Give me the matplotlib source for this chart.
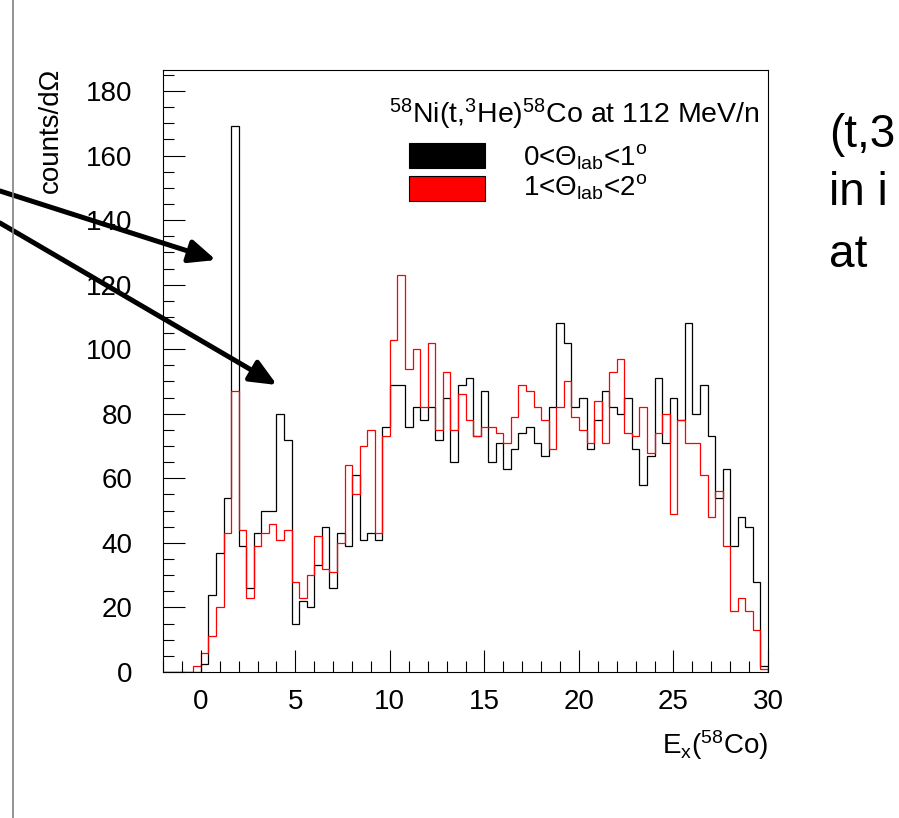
import numpy as np
import matplotlib
matplotlib.use('Agg')
import matplotlib.pyplot as plt
from matplotlib.patches import Rectangle
from matplotlib.lines import Line2D
from matplotlib.ticker import MultipleLocator

plt.rcParams['font.family'] = ['Liberation Sans', 'DejaVu Sans']
plt.rcParams['mathtext.fontset'] = 'custom'
plt.rcParams['mathtext.rm'] = 'Liberation Sans'
plt.rcParams['mathtext.it'] = 'Liberation Sans:italic'

# histogram binning: 80 bins of 0.4 MeV from -2 to 30
x_lo, x_hi, n_bins = -2.0, 30.0, 80

# 0 < theta_lab < 1 deg
counts_0to1 = [0, 0, 0, 0, 0, 2.5, 24, 37, 54, 169,
               39, 26, 43, 50, 50, 80, 72, 15, 22, 20,
               33, 45, 26, 43, 39, 61, 41, 43, 41, 76,
               89, 89, 76, 82, 78, 82, 72, 85, 65, 89,
               91, 73, 87, 65, 71, 63, 69, 74, 76, 71,
               67, 82, 108, 102, 82, 85, 69, 78, 87, 82,
               80, 85, 69, 58, 67, 91, 71, 85, 78, 108,
               80, 89, 73, 54, 63, 39, 48, 45, 28, 2]

# 1 < theta_lab < 2 deg
counts_1to2 = [0, 0, 0, 0, 2, 6, 11, 20, 43, 87,
               44, 23, 39, 43, 46, 41, 44, 28, 23, 30,
               42, 32, 31, 40, 64, 55, 70, 75, 43, 73,
               103, 123, 94, 100, 82, 102, 75, 93, 75, 86,
               78, 73, 76, 76, 74, 71, 79, 89, 87, 82,
               78, 69, 82, 90, 79, 75, 71, 84, 71, 93,
               97, 74, 73, 82, 68, 74, 80, 49, 78, 71,
               71, 61, 48, 56, 39, 19, 23, 19, 13, 1]

edges = np.linspace(x_lo, x_hi, n_bins + 1)

W, H = 899, 818
fs = 20
fig = plt.figure(figsize=(W / 100, H / 100), dpi=100)
ax = fig.add_axes([163 / W, 1 - 672 / H, 605 / W, 602 / H])

ax.stairs(counts_0to1, edges, color='black', lw=0.9)
ax.stairs(counts_1to2, edges, color='red', lw=0.9)

ax.set_xlim(x_lo, x_hi)
ax.set_ylim(0, 186.5)
ax.xaxis.set_major_locator(MultipleLocator(5))
ax.xaxis.set_minor_locator(MultipleLocator(1))
ax.yaxis.set_major_locator(MultipleLocator(20))
ax.yaxis.set_minor_locator(MultipleLocator(5))
ax.tick_params(which='both', direction='in', top=False, right=False, width=0.8)
ax.tick_params(which='major', length=16)
ax.tick_params(which='minor', length=8)
ax.tick_params(axis='y', which='major', pad=22, labelsize=fs)
ax.tick_params(axis='x', which='major', pad=12, labelsize=fs)
for s in ax.spines.values():
    s.set_linewidth(0.8)

# axis titles, ROOT style
fig.text(51 / W, 1 - 68 / H, 'counts/d\u03a9', rotation=90, ha='center', va='top', fontsize=fs)
fig.text(768 / W, 1 - 754 / H, r'E$_{\rm x}$($^{\rm 58}$Co)', ha='right', va='baseline', fontsize=fs)

# legend
ax.text((760 - 163) / 605, (672 - 123) / 602,
        r'$^{\rm 58}$Ni(t,$^{\rm 3}$He)$^{\rm 58}$Co at 112 MeV/n',
        transform=ax.transAxes, ha='right', va='baseline', fontsize=20.5)
labels = [r'0<$\Theta_{\rm lab}$<1$^{\rm o}$', r'1<$\Theta_{\rm lab}$<2$^{\rm o}$']
colors = ['black', 'red']
box_top = [143, 176]
text_base = [165, 195]
for lab, c, bt, tb in zip(labels, colors, box_top, text_base):
    ax.add_patch(Rectangle(((409 - 163) / 605, (672 - bt - 25) / 602), 76 / 605, 25 / 602,
                           transform=ax.transAxes, facecolor=c, edgecolor='black', lw=0.8))
    ax.text((523 - 163) / 605, (672 - tb) / 602, lab, transform=ax.transAxes,
            ha='left', va='baseline', fontsize=fs)

# arrows pointing at the peaks
arrow_kw = dict(arrowstyle='-|>,head_length=0.8,head_width=0.35', color='black',
                lw=3.6, mutation_scale=20, shrinkA=0, shrinkB=0)
ax.annotate('', xy=(216 / W, 1 - 260 / H), xytext=(0, 1 - 191 / H),
            xycoords='figure fraction', textcoords='figure fraction',
            arrowprops=arrow_kw, annotation_clip=False)
ax.annotate('', xy=(277 / W, 1 - 385 / H), xytext=(0, 1 - 223 / H),
            xycoords='figure fraction', textcoords='figure fraction',
            arrowprops=arrow_kw, annotation_clip=False)

# slide decorations
fig.add_artist(Line2D([12.7 / W, 12.7 / W], [0, 1], transform=fig.transFigure,
                      color='#808080', lw=1.2))
for txt, base in zip(['(t,3', 'in i', 'at'], [147, 205, 267]):
    fig.text(829 / W, 1 - base / H, txt, ha='left', va='baseline', fontsize=33)

fig.savefig('out.png', dpi=100)
